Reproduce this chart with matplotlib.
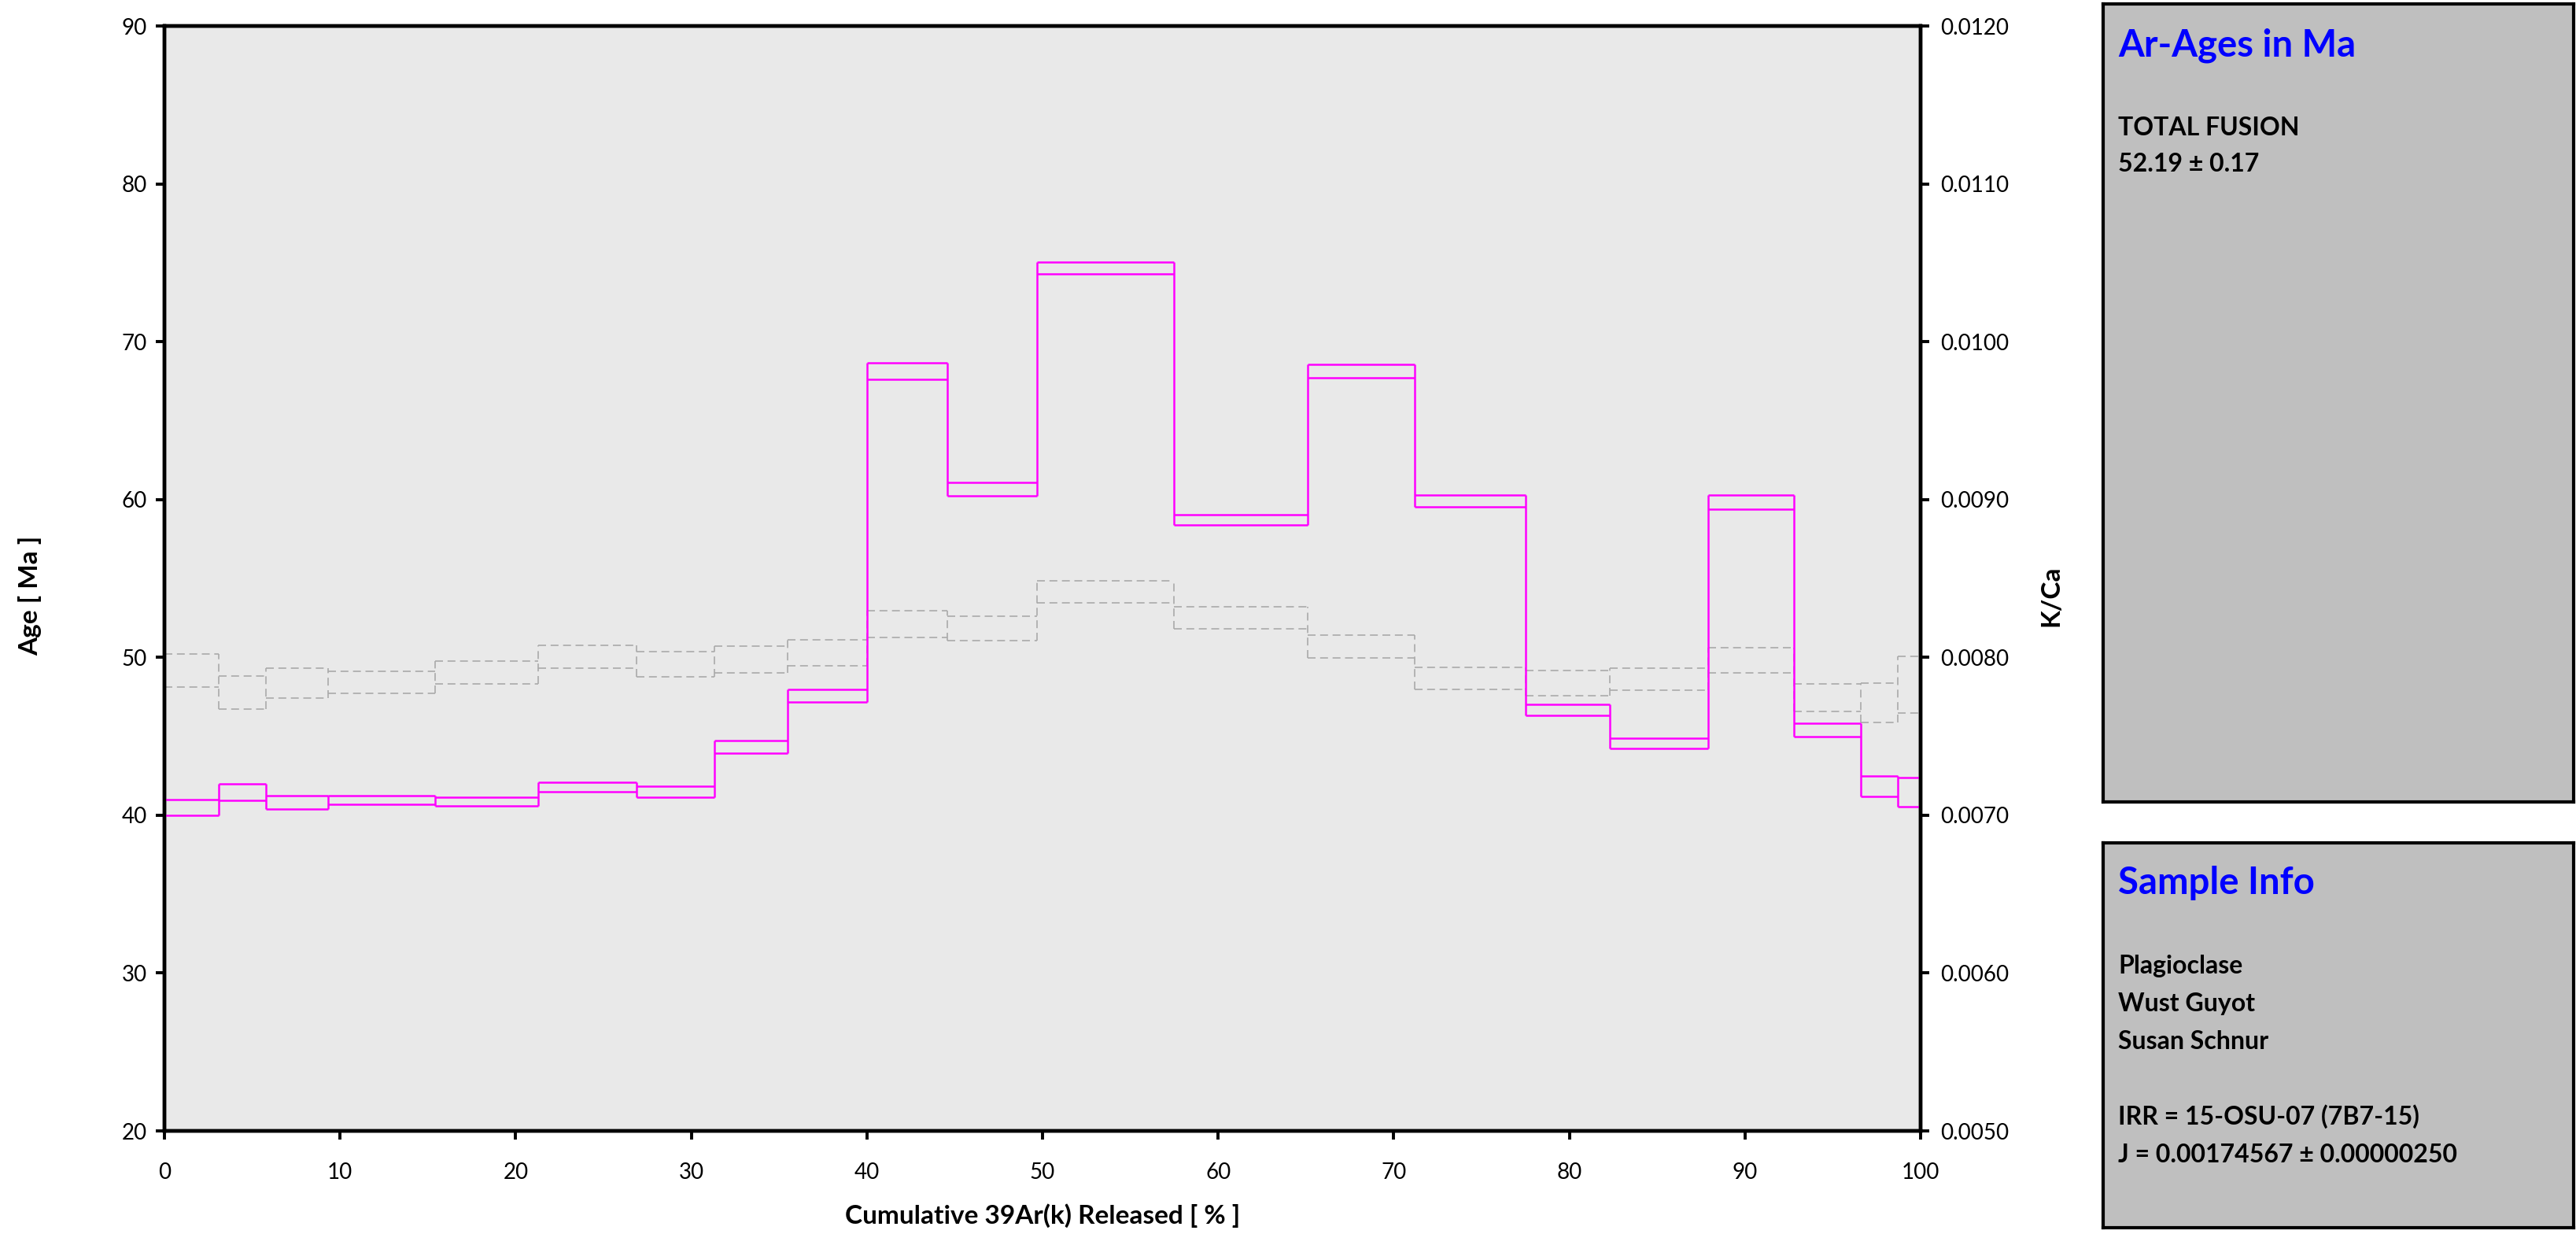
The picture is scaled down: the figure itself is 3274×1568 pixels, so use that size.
import matplotlib
matplotlib.use('Agg')
import matplotlib.pyplot as plt
import numpy as np

plt.rcParams['font.family'] = ['Lato', 'DejaVu Sans']

# step edges in cumulative 39Ar(k) released [%]
edges = [0, 3.1, 5.8, 9.3, 15.4, 21.3, 26.9, 31.3, 35.5, 40.0, 44.6,
         49.7, 57.5, 65.1, 71.2, 77.5, 82.3, 87.9, 92.8, 96.6, 98.7, 100]

# ages (Ma), upper / lower bound of each step
age_hi = [40.99, 41.99, 41.22, 41.26, 41.14, 42.09, 41.85, 44.71, 47.97, 68.67, 61.08,
          75.06, 59.03, 68.54, 60.26, 47.04, 44.88, 60.28, 45.81, 42.50, 42.41]
age_lo = [40.01, 40.96, 40.37, 40.67, 40.59, 41.49, 41.16, 43.92, 47.17, 67.63, 60.24,
          74.31, 58.41, 67.72, 59.55, 46.30, 44.23, 59.41, 44.97, 41.19, 40.52]

# K/Ca, upper / lower bound of each step
kca_hi = [0.008020, 0.007883, 0.007930, 0.007913, 0.007975, 0.008078, 0.008036, 0.008073,
          0.008111, 0.008296, 0.008262, 0.008487, 0.008321, 0.008140, 0.007937, 0.007915,
          0.007933, 0.008060, 0.007830, 0.007839, 0.008008]
kca_lo = [0.007810, 0.007672, 0.007741, 0.007774, 0.007832, 0.007930, 0.007877, 0.007903,
          0.007948, 0.008126, 0.008106, 0.008343, 0.008182, 0.007995, 0.007799, 0.007759,
          0.007790, 0.007900, 0.007657, 0.007588, 0.007648]

age_ticks = [20, 30, 40, 50, 60, 70, 80, 90]
kca_ticks = [0.005, 0.006, 0.007, 0.008, 0.009, 0.010, 0.011, 0.012]
x_ticks = [0, 10, 20, 30, 40, 50, 60, 70, 80, 90, 100]

W, H = 3274, 1568
fig = plt.figure(figsize=(W / 100, H / 100), dpi=100)

def fx(px):
    return px / W

def fy(py):
    return 1 - py / H


def step_boxes(a, hi, lo, **style):
    # horizontal bounds of every step plus one vertical per edge
    hi = np.asarray(hi)
    lo = np.asarray(lo)
    e = np.asarray(edges)
    a.hlines(hi, e[:-1], e[1:], **style)
    a.hlines(lo, e[:-1], e[1:], **style)
    vmin = np.minimum(np.r_[lo, lo[-1]], np.r_[lo[0], lo])
    vmax = np.maximum(np.r_[hi, hi[-1]], np.r_[hi[0], hi])
    a.vlines(e, vmin, vmax, **style)


ax = fig.add_axes([fx(209), fy(1437), fx(2441 - 209), (1437 - 33) / H])
ax2 = ax.twinx()
ax.set_zorder(ax2.get_zorder() + 1)
ax.patch.set_visible(False)
ax2.patch.set_visible(True)
ax2.set_facecolor('#e9e9e9')

# K/Ca steps (dashed grey) on the right axis
step_boxes(ax2, kca_hi, kca_lo, colors='#aaaaaa', linewidth=1.2,
           linestyles=[(0, (6, 3.5))])

# age spectrum (magenta)
step_boxes(ax, age_hi, age_lo, colors='#ff00ff', linewidth=1.8)

ax.set_xlim(0, 100)
ax.set_ylim(20, 90)
ax2.set_ylim(0.005, 0.012)
ax.set_xticks(x_ticks)
ax.set_yticks(age_ticks)
ax2.set_yticks(kca_ticks)
ax2.set_yticklabels(['%.4f' % v for v in kca_ticks])

for a in (ax, ax2):
    for s in a.spines.values():
        s.set_linewidth(3.2)
        s.set_color('black')
        s.set_zorder(5)
ax.tick_params(axis='both', direction='out', length=8, width=2.8, labelsize=20, pad=8)
ax.tick_params(axis='x', pad=21)
ax2.tick_params(axis='y', direction='out', length=8, width=2.8, labelsize=20, pad=10)

fig.text(fx(38), fy(757), 'Age [ Ma ]', rotation=90, ha='center', va='center',
         fontsize=24, fontweight='bold')
fig.text(fx(2607), fy(757), 'K/Ca', rotation=90, ha='center', va='center',
         fontsize=24, fontweight='bold')
fig.text(fx(1325), fy(1545), 'Cumulative 39Ar(k) Released [ % ]', ha='center', va='center',
         fontsize=24, fontweight='bold')

# info panels on the right
for top, bot in [(5, 1019), (1071, 1560)]:
    p = fig.add_axes([fx(2673), fy(bot), fx(3271 - 2673), (bot - top) / H])
    p.set_facecolor('#bfbfbf')
    p.set_xticks([])
    p.set_yticks([])
    for s in p.spines.values():
        s.set_linewidth(3)

fig.text(fx(2692), fy(72), 'Ar-Ages in Ma', color='#0000ff', fontsize=34,
         fontweight='bold', va='baseline')
fig.text(fx(2692), fy(172), 'TOTAL FUSION', fontsize=23, fontweight='bold', va='baseline')
fig.text(fx(2692), fy(218), '52.19 ± 0.17', fontsize=23, fontweight='bold', va='baseline')

fig.text(fx(2692), fy(1136), 'Sample Info', color='#0000ff', fontsize=34,
         fontweight='bold', va='baseline')
info = ['Plagioclase', 'Wust Guyot', 'Susan Schnur', '',
        'IRR = 15-OSU-07 (7B7-15)', 'J = 0.00174567 ± 0.00000250']
for i, line in enumerate(info):
    fig.text(fx(2692), fy(1237 + 48 * i), line, fontsize=23, fontweight='bold', va='baseline')

fig.savefig('out.png', dpi=100)
